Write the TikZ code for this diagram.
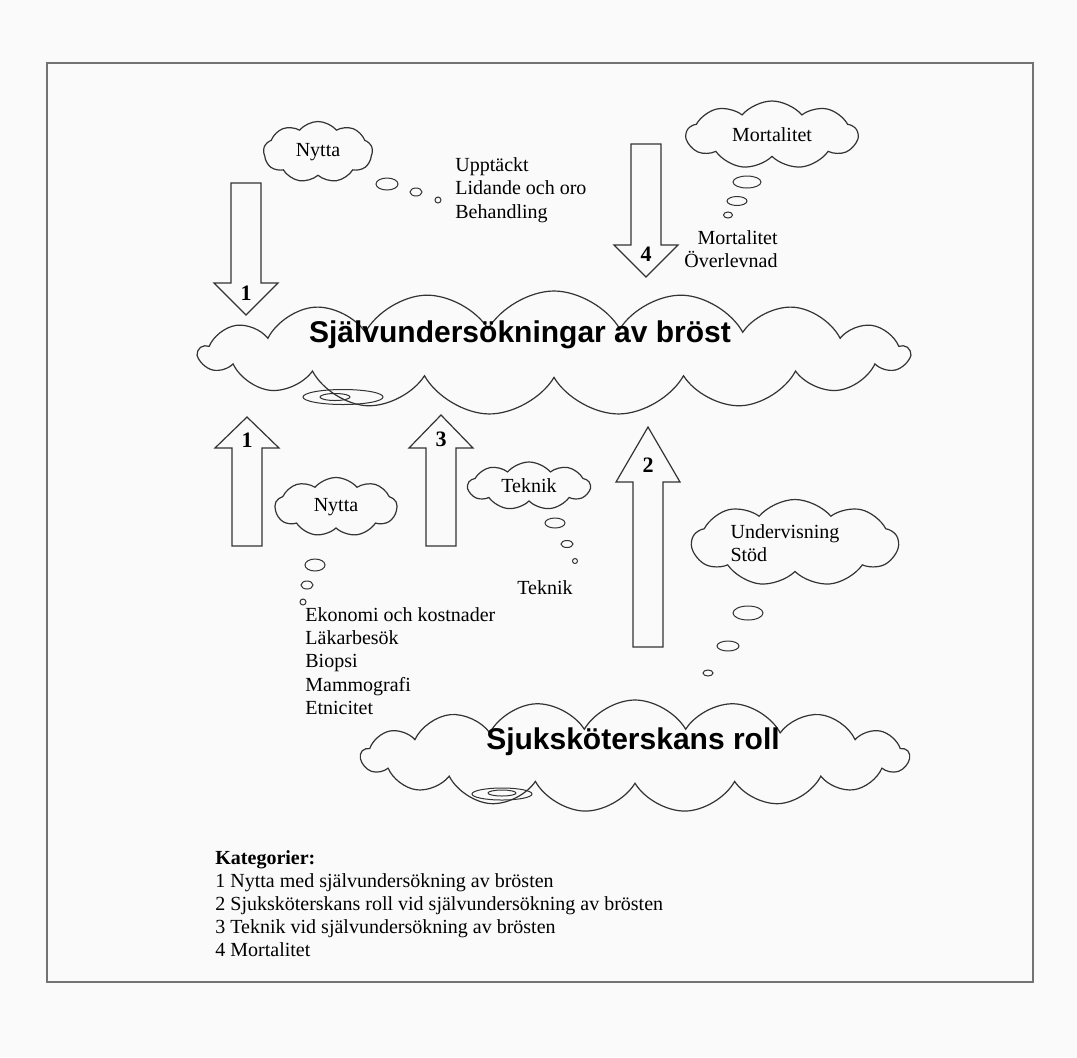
\documentclass[tikz,border=0pt]{standalone}
\usepackage{fontspec}
\setmainfont{Liberation Serif}
\newfontfamily\headfont{Liberation Sans}
\usetikzlibrary{shapes.symbols}
\begin{document}
\begin{tikzpicture}[x=0.5pt,y=-0.5pt,
  every node/.style={font=\fontsize{10}{11.7}\selectfont},
  thoughtcloud/.style={draw=black!80, line width=0.6pt, cloud, cloud puffs=9, cloud puff arc=100, cloud ignores aspect, inner sep=0pt},
  bigcloud/.style={thoughtcloud, cloud puffs=17, cloud puff arc=120},
  bubble/.style={draw=black!80, line width=0.5pt},
  blockarrow/.style={draw=black!80, line width=0.6pt, fill=black!2},
  arrownum/.style={font=\fontsize{11}{12}\selectfont\bfseries, inner sep=0pt},
  headline/.style={font=\headfont\fontsize{15}{18}\selectfont\bfseries, inner sep=0pt},
  itemlist/.style={align=left, inner sep=0pt}]
\path[use as bounding box, fill=black!2] (0,0) rectangle (1077,1057);
\draw[black!55, line width=1.1pt] (47,63) rectangle (1033,982);

% main clouds
\node[bigcloud, minimum width=355pt, minimum height=62pt] (self) at (554,353) {};
\node[headline] (selftext) at (520,335) {Självundersökningar av bröst};
\draw[bubble] (343,397) ellipse [x radius=40, y radius=7.5];
\draw[bubble] (335,397) ellipse [x radius=15, y radius=3.5];
\node[bigcloud, minimum width=274pt, minimum height=56pt] (roll) at (635,756) {};
\node[headline] (rolltext) at (633,742) {Sjuksköterskans roll};
\draw[bubble] (502,794) ellipse [x radius=30, y radius=6];
\draw[bubble] (502,793) ellipse [x radius=14, y radius=3];

% small thought clouds
\node[thoughtcloud, minimum width=54.5pt, minimum height=30.5pt] (nyttatop) at (318,152) {\raisebox{-2pt}{Nytta}};
\node[thoughtcloud, minimum width=85.5pt, minimum height=34pt] (morttop) at (772,135) {Mortalitet};
\node[thoughtcloud, minimum width=61pt, minimum height=29.5pt] (nyttamid) at (336,507) {\raisebox{-3pt}{Nytta}};
\node[thoughtcloud, minimum width=61pt, minimum height=24pt] (teknikmid) at (529,486) {Teknik};
\node[thoughtcloud, minimum width=103pt, minimum height=43.5pt, align=left] (stod) at (795,543) {Undervisning\hspace*{10pt}\\Stöd};

% bubbles
\draw[bubble] (387,184) ellipse [x radius=11, y radius=6];
\draw[bubble] (416,192) ellipse [x radius=6, y radius=4];
\draw[bubble] (438,200) ellipse [x radius=3, y radius=3];
\draw[bubble] (747,182) ellipse [x radius=14, y radius=6];
\draw[bubble] (737,201) ellipse [x radius=10, y radius=4.5];
\draw[bubble] (728,215) ellipse [x radius=4.5, y radius=3];
\draw[bubble] (315,565) ellipse [x radius=10, y radius=6];
\draw[bubble] (307,585) ellipse [x radius=6, y radius=4];
\draw[bubble] (303,602) ellipse [x radius=3, y radius=3];
\draw[bubble] (555,523) ellipse [x radius=10, y radius=5];
\draw[bubble] (567,544) ellipse [x radius=6, y radius=3.5];
\draw[bubble] (575,561) ellipse [x radius=2.5, y radius=2.5];
\draw[bubble] (748,613) ellipse [x radius=15, y radius=7];
\draw[bubble] (728,646) ellipse [x radius=11, y radius=5];
\draw[bubble] (708,673) ellipse [x radius=5, y radius=3];

% block arrows
\foreach \name/\cx/\tail/\base/\tip/\num/\ly in {
  nyttadown/246/183/283/315/1/293,
  mortdown/646/144/245/277/4/254,
  nyttaup/247/546/448/417/1/440,
  teknikup/441/546/448/415/3/439,
  rollup/648/647/482/427/2/465}
{
  \draw[blockarrow] (\cx-15,\tail) -- (\cx-15,\base) -- (\cx-32,\base) -- (\cx,\tip)
    -- (\cx+32,\base) -- (\cx+15,\base) -- (\cx+15,\tail) -- cycle;
  \node[arrownum] (\name) at (\cx,\ly) {\num};
}

% texts
\node[itemlist, anchor=west] (nyttalist) at (455,190) {Upptäckt\\Lidande och oro\\Behandling};
\node[itemlist, anchor=east, align=right] (mortlist) at (778,249) {Mortalitet\\Överlevnad};
\node[itemlist] (tekniktext) at (545,588) {Teknik};
\node[itemlist, anchor=west] (ekolist) at (305,661) {Ekonomi och kostnader\\Läkarbesök\\Biopsi\\Mammografi\\Etnicitet};
\node[itemlist, anchor=west, font=\fontsize{10}{11.5}\selectfont] (legend) at (215,904) {\textbf{Kategorier:}\\1 Nytta med självundersökning av brösten\\2 Sjuksköterskans roll vid självundersökning av brösten\\3 Teknik vid självundersökning av brösten\\4 Mortalitet};
\end{tikzpicture}
\end{document}
